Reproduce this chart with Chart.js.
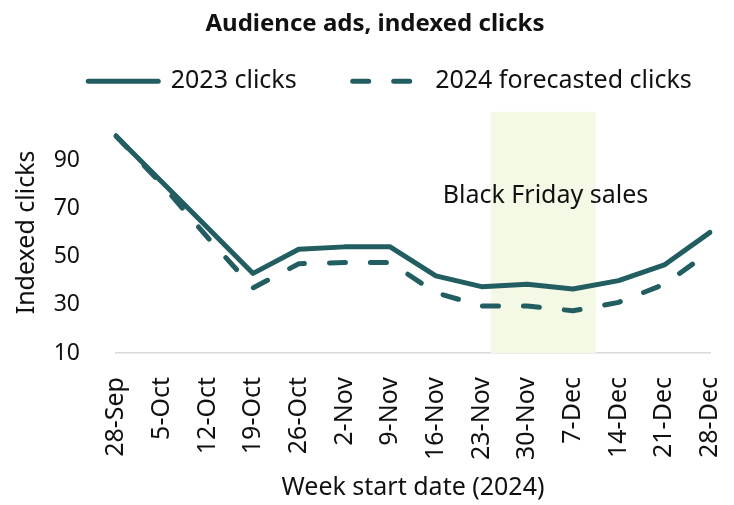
<!DOCTYPE html>
<html lang="en">
<head>
    <meta charset="UTF-8">
    <title>Audience ads, indexed clicks</title>
    <script src="https://cdn.jsdelivr.net/npm/chart.js"></script>
    <style>
        html, body {
            margin: 0;
            padding: 0;
            background: white;
        }
        #wrap {
            width: 734px;
            height: 505px;
        }
    </style>
</head>
<body>
    <div id="wrap"><canvas id="clicks-chart"></canvas></div>

    <script>
        const weeks = ['28-Sep', '5-Oct', '12-Oct', '19-Oct', '26-Oct', '2-Nov', '9-Nov',
            '16-Nov', '23-Nov', '30-Nov', '7-Dec', '14-Dec', '21-Dec', '28-Dec'];
        const clicks2023 = [100, 81, 62, 43, 53, 54, 54, 42, 37.5, 38.5, 36.5, 40, 46.5, 60];
        const forecast2024 = [100, 80, 58, 37, 47, 47.5, 47.5, 35, 29.5, 29.5, 27.5, 31, 38.5, 52];
        const yTicks = [10, 30, 50, 70, 90];

        // Black Friday band, in category index units
        const bandStart = 8.2;
        const bandEnd = 10.5;
        const bandLabel = 'Black Friday sales';

        const teal = '#225e61';
        const font = "'Noto Sans', sans-serif";
        const legendGap = 56;

        const bandPlugin = {
            id: 'band',
            beforeDatasetsDraw(chart) {
                const { ctx, chartArea, scales } = chart;
                const x1 = scales.x.getPixelForValue(bandStart);
                const x2 = scales.x.getPixelForValue(bandEnd);
                ctx.save();
                ctx.fillStyle = '#f4f9e6';
                ctx.fillRect(x1, chartArea.top, x2 - x1, chartArea.bottom - chartArea.top);
                ctx.fillStyle = '#111';
                ctx.font = '25px ' + font;
                ctx.textAlign = 'center';
                ctx.textBaseline = 'middle';
                ctx.fillText(bandLabel, scales.x.getPixelForValue(9.4), scales.y.getPixelForValue(75));
                ctx.restore();
            }
        };

        // legend padding is also used vertically, so take the extra back out
        // and nudge title/legend right like the original
        const tweakPlugin = {
            id: 'tweak',
            beforeInit(chart) {
                const fit = chart.legend.fit;
                chart.legend.fit = function () {
                    fit.call(this);
                    this.height += 8 - (legendGap - 30);
                };
            },
            afterLayout(chart) {
                const lg = chart.legend;
                lg.left += 17;
                lg.right += 17;
                lg.top -= legendGap - 30;
                lg.height = lg.bottom - lg.top;
                chart.titleBlock.left += 2;
                chart.titleBlock.right += 2;
            }
        };

        new Chart(document.getElementById('clicks-chart'), {
            type: 'line',
            data: {
                labels: weeks,
                datasets: [{
                    label: '2023 clicks',
                    data: clicks2023,
                    borderColor: teal,
                    backgroundColor: teal,
                    borderWidth: 5,
                    pointRadius: 0,
                    tension: 0,
                    borderCapStyle: 'round',
                    borderJoinStyle: 'round'
                }, {
                    label: '2024 forecasted clicks',
                    data: forecast2024,
                    borderColor: teal,
                    backgroundColor: teal,
                    borderWidth: 5,
                    borderDash: [16, 25],
                    pointRadius: 0,
                    tension: 0,
                    borderCapStyle: 'round',
                    borderJoinStyle: 'round'
                }]
            },
            options: {
                responsive: true,
                maintainAspectRatio: false,
                animation: false,
                layout: {
                    padding: { left: 12, right: 0, top: 0, bottom: 0 }
                },
                plugins: {
                    title: {
                        display: true,
                        text: 'Audience ads, indexed clicks',
                        color: '#111',
                        font: { family: font, size: 24, weight: 'bold' },
                        padding: { top: 10, bottom: 0 }
                    },
                    legend: {
                        position: 'top',
                        labels: {
                            color: '#111',
                            font: { family: font, size: 25 },
                            usePointStyle: true,
                            pointStyle: 'line',
                            pointStyleWidth: 70,
                            padding: legendGap,
                            generateLabels(chart) {
                                const items = Chart.defaults.plugins.legend.labels.generateLabels(chart);
                                items.forEach(item => {
                                    const ds = chart.data.datasets[item.datasetIndex];
                                    item.lineDash = ds.borderDash || [];
                                    item.lineCap = 'round';
                                    item.lineWidth = ds.borderWidth;
                                });
                                return items;
                            }
                        }
                    },
                    tooltip: { enabled: false }
                },
                scales: {
                    x: {
                        offset: false,
                        grid: { display: false, drawTicks: false },
                        border: { color: '#d9d9d9', width: 1.5 },
                        afterFit(axis) {
                            axis.height = 152;
                            axis.paddingLeft = 0;
                            axis.paddingRight = 24;
                        },
                        ticks: {
                            color: '#111',
                            font: { family: font, size: 25 },
                            minRotation: 90,
                            maxRotation: 90,
                            autoSkip: false,
                            padding: 24
                        },
                        title: {
                            display: true,
                            text: 'Week start date (2024)',
                            color: '#111',
                            font: { family: font, size: 25 },
                            padding: { top: 8, bottom: 2 }
                        }
                    },
                    y: {
                        min: 10,
                        max: 110,
                        grid: { display: false, drawTicks: false },
                        border: { display: false },
                        afterFit(axis) {
                            axis.width = 104;
                        },
                        afterBuildTicks(axis) {
                            axis.ticks = yTicks.map(v => ({ value: v }));
                        },
                        ticks: {
                            color: '#111',
                            font: { family: font, size: 23 },
                            padding: 36
                        },
                        title: {
                            display: true,
                            text: 'Indexed clicks',
                            color: '#111',
                            font: { family: font, size: 25 },
                            padding: { top: 0, bottom: 10 }
                        }
                    }
                }
            },
            plugins: [bandPlugin, tweakPlugin]
        });
    </script>
</body>
</html>
